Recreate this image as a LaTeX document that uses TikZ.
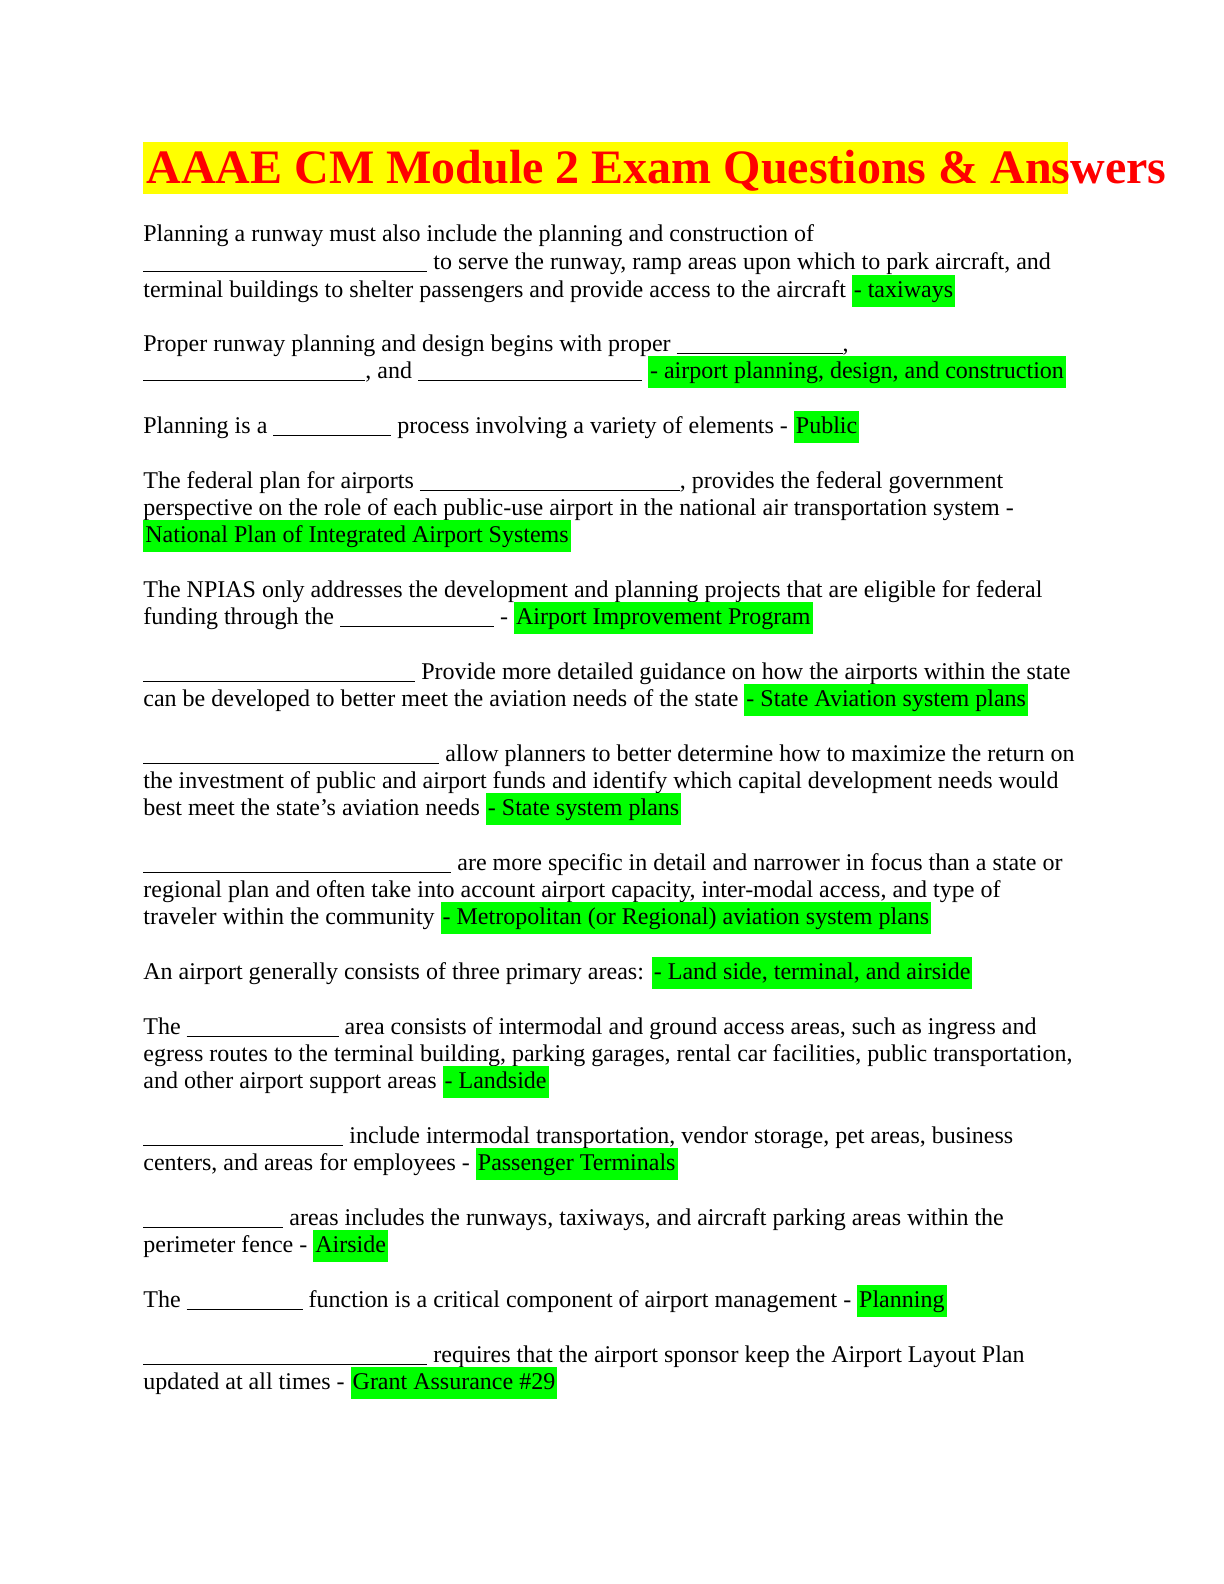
\documentclass[tikz,border=0pt]{standalone}
\usepackage{fontspec}
\setmainfont{Liberation Serif}
\usepackage{xcolor}
\definecolor{HlGreen}{RGB}{0,255,0}
\definecolor{TitleYellow}{RGB}{255,255,0}
\definecolor{TitleRed}{RGB}{255,0,0}
\newcommand\blank[1]{\rule[-1.5pt]{#1pt}{0.6pt}}
\newcommand\hl[1]{{\setlength{\fboxsep}{1pt}\colorbox{HlGreen}{\strut #1}}}
\tikzset{
  txt/.style={anchor=base west,inner sep=0pt,font=\fontsize{12}{14}\selectfont},
}
\begin{document}
\begin{tikzpicture}[x=0.5pt,y=-0.5pt]
\useasboundingbox (0,0) rectangle (1224,1584);
% title
\fill[TitleYellow] (143,142) rectangle (1068,194);
\node[anchor=base west,inner sep=0pt,font=\fontsize{24}{28}\selectfont\bfseries,text=TitleRed] (title) at (146,184) {AAAE CM Module 2 Exam Questions \& Answers};
% questions
\node[txt] (q1a) at (143,241) {Planning a runway must also include the planning and construction of};
\node[txt] (q1b) at (143,269) {\blank{142} to serve the runway, ramp areas upon which to park aircraft, and};
\node[txt] (q1c) at (143,297) {terminal buildings to shelter passengers and provide access to the aircraft \hl{- taxiways}};
\node[txt] (q2a) at (143,351) {Proper runway planning and design begins with proper \blank{83},};
\node[txt] (q2b) at (143,378) {\blank{111}, and \blank{112} \hl{- airport planning, design, and construction}};
\node[txt] (q3) at (143,433) {Planning is a \blank{59} process involving a variety of elements - \hl{Public}};
\node[txt] (q4a) at (143,488) {The federal plan for airports \blank{130}, provides the federal government};
\node[txt] (q4b) at (143,515) {perspective on the role of each public-use airport in the national air transportation system -};
\node[txt] (q4c) at (143,542) {\hl{National Plan of Integrated Airport Systems}};
\node[txt] (q5a) at (143,597) {The NPIAS only addresses the development and planning projects that are eligible for federal};
\node[txt] (q5b) at (143,624) {funding through the \blank{77} - \hl{Airport Improvement Program}};
\node[txt] (q6a) at (143,679) {\blank{136} Provide more detailed guidance on how the airports within the state};
\node[txt] (q6b) at (143,706) {can be developed to better meet the aviation needs of the state \hl{- State Aviation system plans}};
\node[txt] (q7a) at (143,761) {\blank{148} allow planners to better determine how to maximize the return on};
\node[txt] (q7b) at (143,788) {the investment of public and airport funds and identify which capital development needs would};
\node[txt] (q7c) at (143,815) {best meet the state's aviation needs \hl{- State system plans}};
\node[txt] (q8a) at (143,870) {\blank{154} are more specific in detail and narrower in focus than a state or};
\node[txt] (q8b) at (143,897) {regional plan and often take into account airport capacity, inter-modal access, and type of};
\node[txt] (q8c) at (143,924) {traveler within the community \hl{- Metropolitan (or Regional) aviation system plans}};
\node[txt] (q9) at (143,979) {An airport generally consists of three primary areas: \hl{- Land side, terminal, and airside}};
\node[txt] (q10a) at (143,1034) {The \blank{76} area consists of intermodal and ground access areas, such as ingress and};
\node[txt] (q10b) at (143,1061) {egress routes to the terminal building, parking garages, rental car facilities, public transportation,};
\node[txt] (q10c) at (143,1088) {and other airport support areas \hl{- Landside}};
\node[txt] (q11a) at (143,1143) {\blank{100} include intermodal transportation, vendor storage, pet areas, business};
\node[txt] (q11b) at (143,1170) {centers, and areas for employees - \hl{Passenger Terminals}};
\node[txt] (q12a) at (143,1225) {\blank{70} areas includes the runways, taxiways, and aircraft parking areas within the};
\node[txt] (q12b) at (143,1252) {perimeter fence - \hl{Airside}};
\node[txt] (q13) at (143,1307) {The \blank{58} function is a critical component of airport management - \hl{Planning}};
\node[txt] (q14a) at (143,1362) {\blank{142} requires that the airport sponsor keep the Airport Layout Plan};
\node[txt] (q14b) at (143,1389) {updated at all times - \hl{Grant Assurance \#29}};
\end{tikzpicture}
\end{document}
